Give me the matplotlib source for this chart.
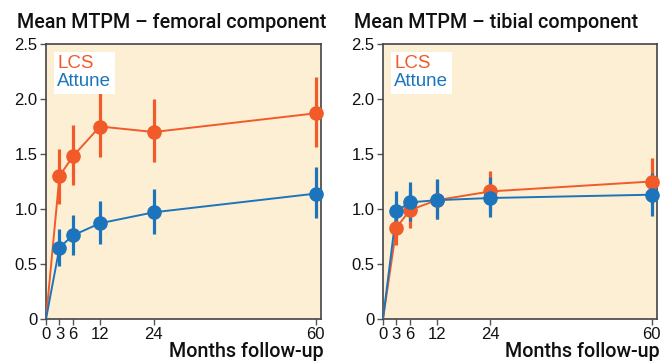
import matplotlib
matplotlib.use("Agg")
import matplotlib.pyplot as plt
from matplotlib.lines import Line2D

months = [0, 3, 6, 12, 24, 60]
tick_labels = ["0", "3", "6", "12", "24", "60"]
ytick_vals = [0, 0.5, 1.0, 1.5, 2.0, 2.5]
ytick_labels = ["0", "0.5", "1.0", "1.5", "2.0", "2.5"]

fem_lcs = [0, 1.30, 1.48, 1.75, 1.70, 1.87]
fem_lcs_lo = [0, 1.05, 1.22, 1.47, 1.43, 1.56]
fem_lcs_hi = [0, 1.55, 1.76, 2.07, 2.00, 2.20]
fem_att = [0, 0.65, 0.76, 0.87, 0.97, 1.14]
fem_att_lo = [0, 0.48, 0.58, 0.68, 0.77, 0.92]
fem_att_hi = [0, 0.82, 0.95, 1.07, 1.18, 1.38]

tib_lcs = [0, 0.83, 0.99, 1.08, 1.16, 1.25]
tib_lcs_lo = [0, 0.67, 0.83, 0.91, 0.97, 1.05]
tib_lcs_hi = [0, 1.00, 1.18, 1.26, 1.35, 1.46]
tib_att = [0, 0.98, 1.06, 1.08, 1.10, 1.13]
tib_att_lo = [0, 0.82, 0.89, 0.91, 0.93, 0.94]
tib_att_hi = [0, 1.16, 1.25, 1.27, 1.29, 1.33]

titles = ["Mean MTPM \u2013 femoral component", "Mean MTPM \u2013 tibial component"]

ORANGE = "#F15A29"
BLUE = "#1C75BC"
BG = "#FDEFD3"

plt.rcParams['font.family'] = ['Liberation Sans', 'DejaVu Sans']
HEAD_FONT = ['Roboto', 'Liberation Sans', 'DejaVu Sans']

fig = plt.figure(figsize=(6.62, 3.63), dpi=100)
W, H = 662, 363
axes_px = [(46, 321), (383, 657)]
top, bottom = 44, 319

panels = [
    (fem_lcs, fem_lcs_lo, fem_lcs_hi, fem_att, fem_att_lo, fem_att_hi),
    (tib_lcs, tib_lcs_lo, tib_lcs_hi, tib_att, tib_att_lo, tib_att_hi),
]

for i, (x0, x1) in enumerate(axes_px):
    ax = fig.add_axes([x0 / W, 1 - bottom / H, (x1 - x0) / W, (bottom - top) / H])
    ax.set_facecolor(BG)
    lcs, lcs_lo, lcs_hi, att, att_lo, att_hi = panels[i]
    series = [(lcs, lcs_lo, lcs_hi, ORANGE), (att, att_lo, att_hi, BLUE)]
    for vals, lo, hi, c in series:
        ax.plot(months, vals, color=c, lw=1.4, zorder=3)
        xs = months[1:]
        ys = vals[1:]
        yerr = [[v - l for v, l in zip(ys, lo[1:])], [h - v for v, h in zip(ys, hi[1:])]]
        ax.errorbar(xs, ys, yerr=yerr, fmt='o', color=c, ms=9.5, elinewidth=2.3,
                    capsize=0, zorder=4, clip_on=False)
    ax.set_xlim(0, 61.2)
    ax.set_ylim(0, 2.5)
    ax.set_xticks(months)
    ax.set_xticklabels(tick_labels, fontsize=12)
    ax.set_yticks(ytick_vals)
    ax.set_yticklabels(ytick_labels, fontsize=12)
    ax.tick_params(direction='out', length=4, width=1, color='#555555', pad=2,
                   labelcolor='#111111')
    for s in ax.spines.values():
        s.set_color('#444444')
        s.set_linewidth(1.2)
    ax.text(-0.105, 1.045, titles[i], transform=ax.transAxes, fontsize=14.2,
            ha='left', va='bottom', color='#111111', family=HEAD_FONT, weight='medium')
    ax.text(1.01, -0.085, "Months follow-up", transform=ax.transAxes, fontsize=14.2,
            ha='right', va='top', color='#111111', family=HEAD_FONT, weight='medium')
    handles = [Line2D([], [], color=ORANGE, label="LCS"), Line2D([], [], color=BLUE, label="Attune")]
    leg = ax.legend(handles=handles, loc='upper left', handlelength=0, handletextpad=0,
                    labelcolor='linecolor', fontsize=13.5, frameon=True, fancybox=False,
                    borderpad=0.2, labelspacing=0.05, borderaxespad=0.4)
    leg.get_frame().set_facecolor('white')
    leg.get_frame().set_edgecolor('none')
    leg.get_frame().set_alpha(1)
    for h in leg.legend_handles:
        h.set_visible(False)

fig.savefig("out.png", dpi=100)
